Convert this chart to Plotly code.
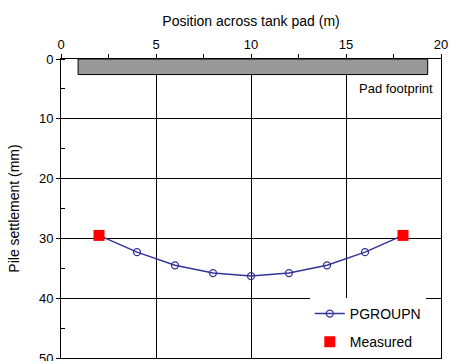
import plotly.graph_objects as go

# Computed settlement profile across the pad (PGROUPN)
pgroupn_x = [2, 4, 6, 8, 10, 12, 14, 16, 18]
pgroupn_mm = [29.5, 32.3, 34.5, 35.8, 36.3, 35.8, 34.5, 32.3, 29.5]

# Measured settlements at the pad edges
measured_x = [2, 18]
measured_mm = [29.5, 29.5]

# Extent of the tank pad footprint (m) and its drawn depth (mm)
pad_extent = [0.9, 19.3]
pad_depth = 2.6

FONT = "Liberation Sans, Arial, sans-serif"

fig = go.Figure()

fig.add_trace(go.Scatter(
    x=pgroupn_x, y=pgroupn_mm, name="PGROUPN", mode="lines+markers",
    legendgroup="a",
    line=dict(color="#333399", width=1.5),
    marker=dict(symbol="circle-open", size=7, color="#333399", line=dict(width=1.3)),
))
fig.add_trace(go.Scatter(
    x=measured_x, y=measured_mm, name="Measured", mode="markers",
    legendgroup="b",
    marker=dict(symbol="square", size=11, color="#ff0000"),
))

fig.add_shape(type="rect", xref="x", yref="y",
              x0=pad_extent[0], x1=pad_extent[1], y0=0, y1=pad_depth,
              fillcolor="#999999", line=dict(color="black", width=1), layer="above")
fig.add_annotation(x=pad_extent[1] + 0.4, y=5, xref="x", yref="y", text="Pad footprint",
                   showarrow=False, xanchor="right", yanchor="middle",
                   font=dict(family=FONT, size=13, color="black"))

fig.update_layout(
    width=450, height=361,
    margin=dict(l=61, r=9, t=59, b=3, autoexpand=False),
    paper_bgcolor="white", plot_bgcolor="white",
    font=dict(family=FONT, size=13, color="black"),
    showlegend=True,
    legend=dict(x=0.96, y=0.0, xanchor="right", yanchor="bottom",
                bgcolor="white", borderwidth=0, font=dict(size=14, family=FONT),
                itemwidth=30, tracegroupgap=7),
)

fig.update_xaxes(
    side="top", range=[0, 20], tickvals=[0, 5, 10, 15, 20],
    ticktext=["0", "5", "10", "15", "20"],
    title=dict(text="Position across tank pad (m)", font=dict(size=14), standoff=6),
    showgrid=True, gridcolor="black", gridwidth=1,
    showline=True, linecolor="black", linewidth=1, mirror=True,
    ticks="outside", ticklen=4, tickcolor="black",
    minor=dict(tickvals=[2.5, 7.5, 12.5, 17.5], ticks="outside", ticklen=4,
               tickcolor="black", showgrid=False),
    zeroline=False, tickfont=dict(size=13),
)
fig.update_yaxes(
    range=[50, 0], dtick=10, tick0=0, ticklabeloverflow="allow",
    title=dict(text="Pile settlement (mm)", font=dict(size=14), standoff=16),
    showgrid=True, gridcolor="black", gridwidth=1,
    showline=True, linecolor="black", linewidth=1, mirror=True,
    ticks="outside", ticklen=4, tickcolor="black",
    minor=dict(dtick=5, ticks="inside", ticklen=4, tickcolor="black", showgrid=False),
    zeroline=False, tickfont=dict(size=13),
)

fig.write_html("out.html")
